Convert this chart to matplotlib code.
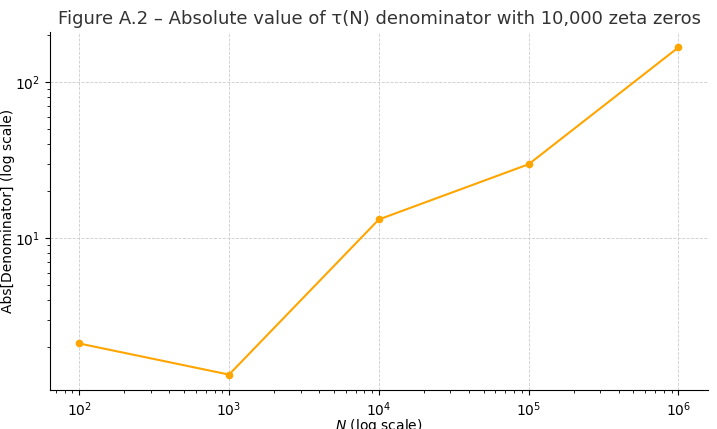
import matplotlib
matplotlib.use("Agg")
import matplotlib.pyplot as plt
import numpy as np

N_VALUES = [1e2, 1e3, 1e4, 1e5, 1e6]
ABS_DENOM = [2.12, 1.34, 13.2, 29.8, 167.0]

fig, ax = plt.subplots(figsize=(7.17, 4.29), dpi=100)
ax.plot(N_VALUES, ABS_DENOM, color="#FFA500", marker="o", markersize=4.5, lw=1.5)
ax.set_xscale("log")
ax.set_yscale("log")
ax.set_xlim(10 ** 1.806, 10 ** 6.2)
ax.set_ylim(10 ** 0.026, 10 ** 2.32)
ax.set_title("Figure A.2 – Absolute value of τ(N) denominator with 10,000 zeta zeros",
             fontsize=13, color="#333333")
ax.set_xlabel("$N$ (log scale)", fontsize=10)
ax.set_ylabel("Abs[Denominator] (log scale)", fontsize=10)
ax.yaxis.set_label_coords(-0.053, 0.5)
ax.xaxis.set_label_coords(0.5, -0.075)
ax.tick_params(labelsize=10)
ax.grid(True, which="major", ls="--", lw=0.6, color="#cccccc")
for s in ("top", "right"):
    ax.spines[s].set_visible(False)
fig.subplots_adjust(left=0.07, right=0.988, top=0.925, bottom=0.09)
fig.savefig("out.png", dpi=100)
